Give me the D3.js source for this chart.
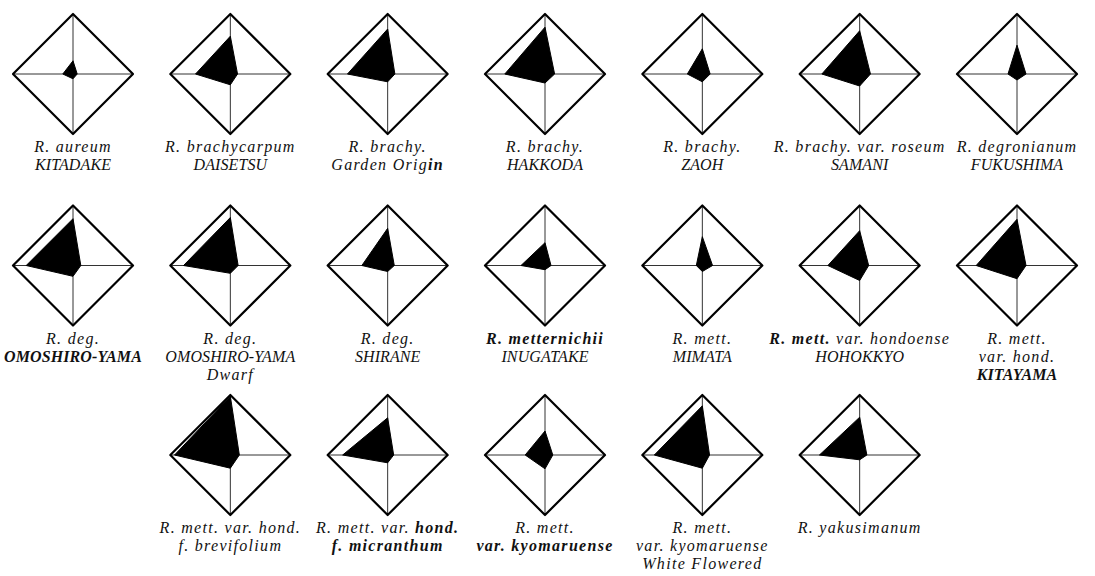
<!DOCTYPE html>
<html>
<head>
<meta charset="utf-8">
<script src="https://cdn.jsdelivr.net/npm/d3@7"></script>
<style>
  body { margin: 0; background: #fff; }
  .lab { font-family: "Liberation Serif", "DejaVu Serif", "Times New Roman", serif; font-style: italic; }
</style>
</head>
<body>
<div id="chart"></div>
<script>
// one label per diagram, lines split by "|", bold parts wrapped in *...*
var labels = [
  "R. aureum|KITADAKE",
  "R. brachycarpum|DAISETSU",
  "R. brachy.|Garden Orig*in*",
  "R. brachy.|HAKKODA",
  "R. brachy.|ZAOH",
  "R. brachy. var. roseum|SAMANI",
  "R. degronianum|FUKUSHIMA",
  "R. deg.|*OMOSHIRO-YAMA*",
  "R. deg.|OMOSHIRO-YAMA|Dwarf",
  "R. deg.|SHIRANE",
  "*R. metternichii*|INUGATAKE",
  "R. mett.|MIMATA",
  "*R. mett.* var. hondoense|HOHOKKYO",
  "R. mett.|var. hond.|*KITAYAMA*",
  "R. mett. var. hond.|f. brevifolium",
  "R. mett. var. *hond.*|*f. micranthum*",
  "R. mett.|*var. kyomaruense*",
  "R. mett.|var. kyomaruense|White Flowered",
  "R. yakusimanum"
];

// relative length of each of the four arms (0..1 of the diamond radius)
var topVals    = [0.22, 0.63, 0.75, 0.78, 0.42, 0.72, 0.48, 0.78, 0.80, 0.62, 0.38, 0.48, 0.58, 0.77, 0.98, 0.62, 0.40, 0.82, 0.63];
var rightVals  = [0.07, 0.12, 0.12, 0.16, 0.13, 0.18, 0.15, 0.13, 0.13, 0.11, 0.10, 0.17, 0.15, 0.15, 0.15, 0.10, 0.13, 0.12, 0.12];
var bottomVals = [0.08, 0.18, 0.13, 0.15, 0.13, 0.20, 0.10, 0.18, 0.13, 0.10, 0.07, 0.10, 0.25, 0.22, 0.22, 0.13, 0.23, 0.22, 0.08];
var leftVals   = [0.17, 0.58, 0.67, 0.67, 0.25, 0.63, 0.15, 0.78, 0.78, 0.43, 0.40, 0.10, 0.53, 0.68, 0.93, 0.75, 0.33, 0.80, 0.67];

createsvg();

function createsvg() {
  var width = 1095;
  var height = 576;

  var svg = d3.select("#chart").append("svg")
    .attr("width", width)
    .attr("height", height);

  svg.append("rect")
    .attr("width", width)
    .attr("height", height)
    .attr("fill", "#fff");

  var colX = d3.scaleLinear().domain([0, 6]).range([73, 1017]);
  var rowY = d3.scaleLinear().domain([0, 2]).range([74, 455]);
  var arm = d3.scaleLinear().domain([0, 1]).range([0, 60]);

  var items = labels.map(function (lab, i) {
    var row = i < 14 ? Math.floor(i / 7) : 2;
    var col = i < 14 ? i % 7 : i - 14 + 1;
    return {
      label: lab,
      cx: colX(col),
      cy: rowY(row) + (row == 1 ? 1 : 0),
      t: topVals[i], r: rightVals[i], b: bottomVals[i], l: leftVals[i]
    };
  });

  var g = svg.selectAll("g.radar").data(items).enter().append("g")
    .attr("class", "radar")
    .attr("transform", function (d) { return "translate(" + d.cx + "," + d.cy + ")"; });

  var R = arm(1);

  // axes
  g.append("line").attr("x1", 0).attr("y1", -R).attr("x2", 0).attr("y2", R)
    .attr("stroke", "#333").attr("stroke-width", 1);
  g.append("line").attr("x1", -R).attr("y1", 0).attr("x2", R).attr("y2", 0)
    .attr("stroke", "#333").attr("stroke-width", 1);

  // filled profile
  g.append("path")
    .attr("d", function (d) {
      return "M 0 " + (-arm(d.t)) + " L " + arm(d.r) + " 0 L 0 " + arm(d.b) + " L " + (-arm(d.l)) + " 0 Z";
    })
    .attr("fill", "#000")
    .attr("stroke", "#000")
    .attr("stroke-width", 1)
    .attr("stroke-linejoin", "round");

  // outline diamond
  g.append("path")
    .attr("d", "M 0 " + (-R) + " L " + R + " 0 L 0 " + R + " L " + (-R) + " 0 Z")
    .attr("fill", "none")
    .attr("stroke", "#000")
    .attr("stroke-width", 2.2)
    .attr("stroke-linejoin", "round");

  // labels
  var txt = g.append("text")
    .attr("class", "lab")
    .attr("text-anchor", "middle")
    .attr("font-size", 16)
    .attr("fill", "#111");

  txt.each(function (d) {
    var t = d3.select(this);
    d.label.split("|").forEach(function (line, k) {
      var caps = !/[a-z]/.test(line);
      var tl = t.append("tspan")
        .attr("x", 0)
        .attr("y", R + 18 + k * 18)
        .attr("letter-spacing", caps ? 0.1 : 1.3);
      line.split("*").forEach(function (part, j) {
        if (part === "") return;
        tl.append("tspan")
          .attr("font-weight", j % 2 == 1 ? "bold" : "normal")
          .text(part);
      });
    });
  });
}
</script>
</body>
</html>
